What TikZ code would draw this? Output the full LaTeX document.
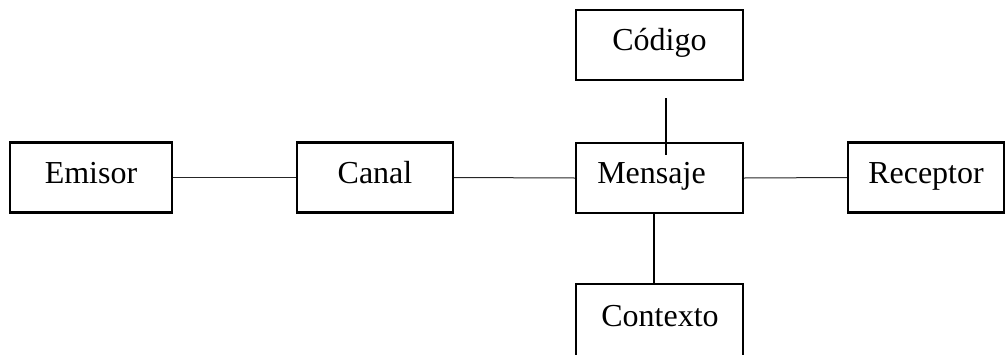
\documentclass[tikz,border=0pt]{standalone}
\usepackage{fontspec}
\setmainfont{Liberation Serif}
\begin{document}
\begin{tikzpicture}[x=1pt,y=-1pt,
  box/.style={draw=black,line width=2.2pt,minimum height=70pt,inner sep=0pt,
    font=\fontsize{32}{36}\selectfont,text height=22pt,text depth=11pt},
  hline/.style={line width=1pt,draw=black!85},
  vline/.style={line width=2pt,draw=black}]
\useasboundingbox (0,0) rectangle (1005,354);
\clip (0,0) rectangle (1005,354);
\node[box,minimum width=162pt] (emi) at (91,177.5) {Emisor};
\node[box,minimum width=156pt] (can) at (375,177.5) {Canal};
\node[box,minimum width=167pt] (msg) at (659.5,178) {\hspace*{-16pt}Mensaje};
\node[box,minimum width=156pt] (rec) at (926,177.5) {Receptor};
\node[box,minimum width=167pt] (cod) at (659.5,45) {Código};
\node[box,minimum width=167pt,minimum height=76pt,anchor=north] (ctx) at (659.5,283) {};
\node[font=\fontsize{32}{36}\selectfont,inner sep=0pt,anchor=base] (ctxt) at (660,326) {Contexto};
\draw[hline] (emi.east) -- (can.west);
\draw[hline] (can.east) -- (msg.west);
\draw[hline] (msg.east) -- (rec.west);
\draw[vline] ([xshift=6.5pt,yshift=-17pt]cod.south) -- ([xshift=6.5pt,yshift=-13pt]msg.north);
\draw[vline] ([xshift=-5.5pt]msg.south) -- ([xshift=-5.5pt]ctx.north);
\end{tikzpicture}
\end{document}
